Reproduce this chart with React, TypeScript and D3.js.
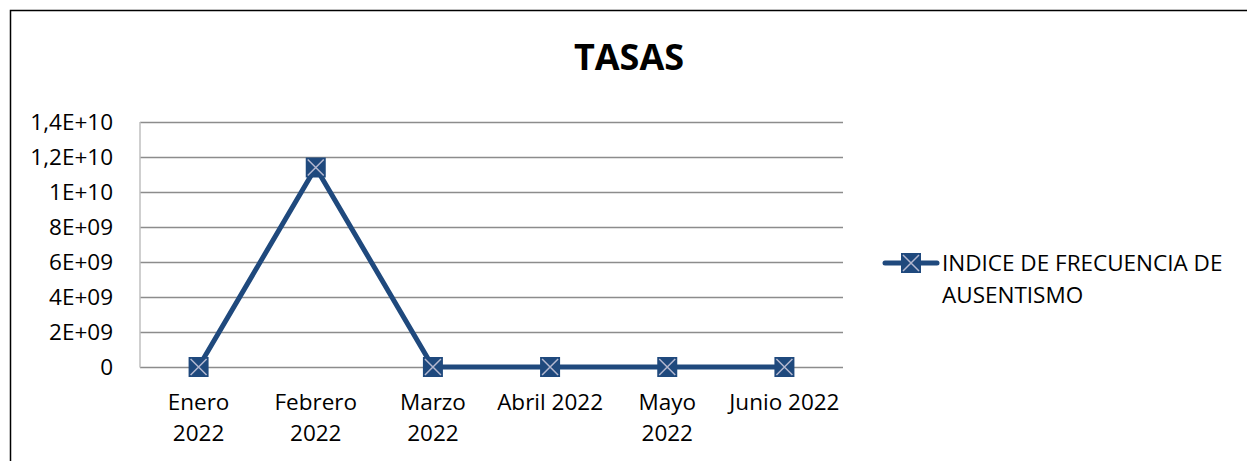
import React, { useEffect, useRef } from 'react';
import * as d3 from 'd3';

// chart data
const categories = ['Enero 2022', 'Febrero 2022', 'Marzo 2022', 'Abril 2022', 'Mayo 2022', 'Junio 2022'];
const categoryLines = [['Enero', '2022'], ['Febrero', '2022'], ['Marzo', '2022'], ['Abril 2022'], ['Mayo', '2022'], ['Junio 2022']];
const values = [0, 1.14e10, 0, 0, 0, 0];
const yTicks = [0, 2e9, 4e9, 6e9, 8e9, 1e10, 1.2e10, 1.4e10];
const yTickLabels = ['0', '2E+09', '4E+09', '6E+09', '8E+09', '1E+10', '1,2E+10', '1,4E+10'];
const seriesName = ['INDICE DE FRECUENCIA DE', 'AUSENTISMO'];

const W = 1247;
const H = 461;
const FONT = "'Open Sans', sans-serif";
const BLUE = '#1f497d';
const XCOLOR = '#b4b8d0';

const App = () => {
  const ref = useRef<SVGSVGElement>(null);

  useEffect(() => {
    const svg = d3.select(ref.current);
    svg.selectAll('*').remove();

    // frame
    svg.append('path')
      .attr('d', `M10.5,${H} V10.5 H${W}`)
      .attr('fill', 'none')
      .attr('stroke', '#000')
      .attr('stroke-width', 1.5);

    // title
    svg.append('text')
      .text('TASAS')
      .attr('x', 629)
      .attr('y', 70)
      .attr('text-anchor', 'middle')
      .style('font-family', FONT)
      .style('font-weight', 'bold')
      .style('font-size', '36px');

    const x = d3.scalePoint<string>().domain(categories).range([140, 843]).padding(0.5);
    const y = d3.scaleLinear().domain([0, 1.4e10]).range([367, 122]);

    // gridlines
    svg.append('g')
      .selectAll('line')
      .data(yTicks)
      .enter()
      .append('line')
      .attr('x1', 140)
      .attr('x2', 843)
      .attr('y1', d => y(d) + 0.5)
      .attr('y2', d => y(d) + 0.5)
      .attr('stroke', '#8c8c8c')
      .attr('stroke-width', 1.5);

    // vertical axis line
    svg.append('line')
      .attr('x1', 140).attr('x2', 140)
      .attr('y1', 122).attr('y2', 367.5)
      .attr('stroke', '#bfbfbf')
      .attr('stroke-width', 1.5);

    // y tick labels
    svg.append('g')
      .selectAll('text')
      .data(yTicks)
      .enter()
      .append('text')
      .text((d, i) => yTickLabels[i])
      .attr('x', 113)
      .attr('y', d => y(d) + 8)
      .attr('text-anchor', 'end')
      .style('font-family', FONT)
      .style('font-size', '22.5px');

    // x labels
    const xl = svg.append('g')
      .selectAll('text')
      .data(categories)
      .enter()
      .append('text')
      .attr('x', d => x(d) as number)
      .attr('y', 410)
      .attr('text-anchor', 'middle')
      .style('font-family', FONT)
      .style('font-size', '22.5px');
    xl.each(function (d, i) {
      const t = d3.select(this);
      categoryLines[i].forEach((ln, j) => {
        t.append('tspan')
          .text(ln)
          .attr('x', x(d) as number)
          .attr('dy', j === 0 ? 0 : 31);
      });
    });

    // series line
    const line = d3.line<number>()
      .x((d, i) => x(categories[i]) as number)
      .y(d => y(d));
    svg.append('path')
      .datum(values)
      .attr('d', line)
      .attr('fill', 'none')
      .attr('stroke', BLUE)
      .attr('stroke-width', 5)
      .attr('stroke-linejoin', 'round');

    const marker = (g: d3.Selection<SVGGElement, unknown, null, undefined>, cx: number, cy: number) => {
      const s = 10;
      g.append('rect')
        .attr('x', cx - s).attr('y', cy - s)
        .attr('width', 2 * s).attr('height', 2 * s)
        .attr('fill', BLUE);
      g.append('path')
        .attr('d', `M${cx - s + 2},${cy - s + 2} L${cx + s - 2},${cy + s - 2} M${cx + s - 2},${cy - s + 2} L${cx - s + 2},${cy + s - 2}`)
        .attr('stroke', XCOLOR)
        .attr('stroke-width', 1.5);
    };

    const mg = svg.append('g');
    values.forEach((v, i) => marker(mg as any, x(categories[i]) as number, y(v)));

    // legend
    const lg = svg.append('g');
    lg.append('line')
      .attr('x1', 885).attr('x2', 937)
      .attr('y1', 263).attr('y2', 263)
      .attr('stroke', BLUE)
      .attr('stroke-width', 5)
      .attr('stroke-linecap', 'round');
    marker(lg as any, 911, 263);
    const lt = lg.append('text')
      .attr('x', 942)
      .attr('y', 271)
      .style('font-family', FONT)
      .style('font-size', '22.5px');
    seriesName.forEach((s, j) => {
      lt.append('tspan').text(s).attr('x', 942).attr('dy', j === 0 ? 0 : 32);
    });
  }, []);

  return (
    <svg
      ref={ref}
      width={W}
      height={H}
      style={{ position: 'absolute', left: 0, top: 0, background: '#fff' }}
    />
  );
};

export default App;
